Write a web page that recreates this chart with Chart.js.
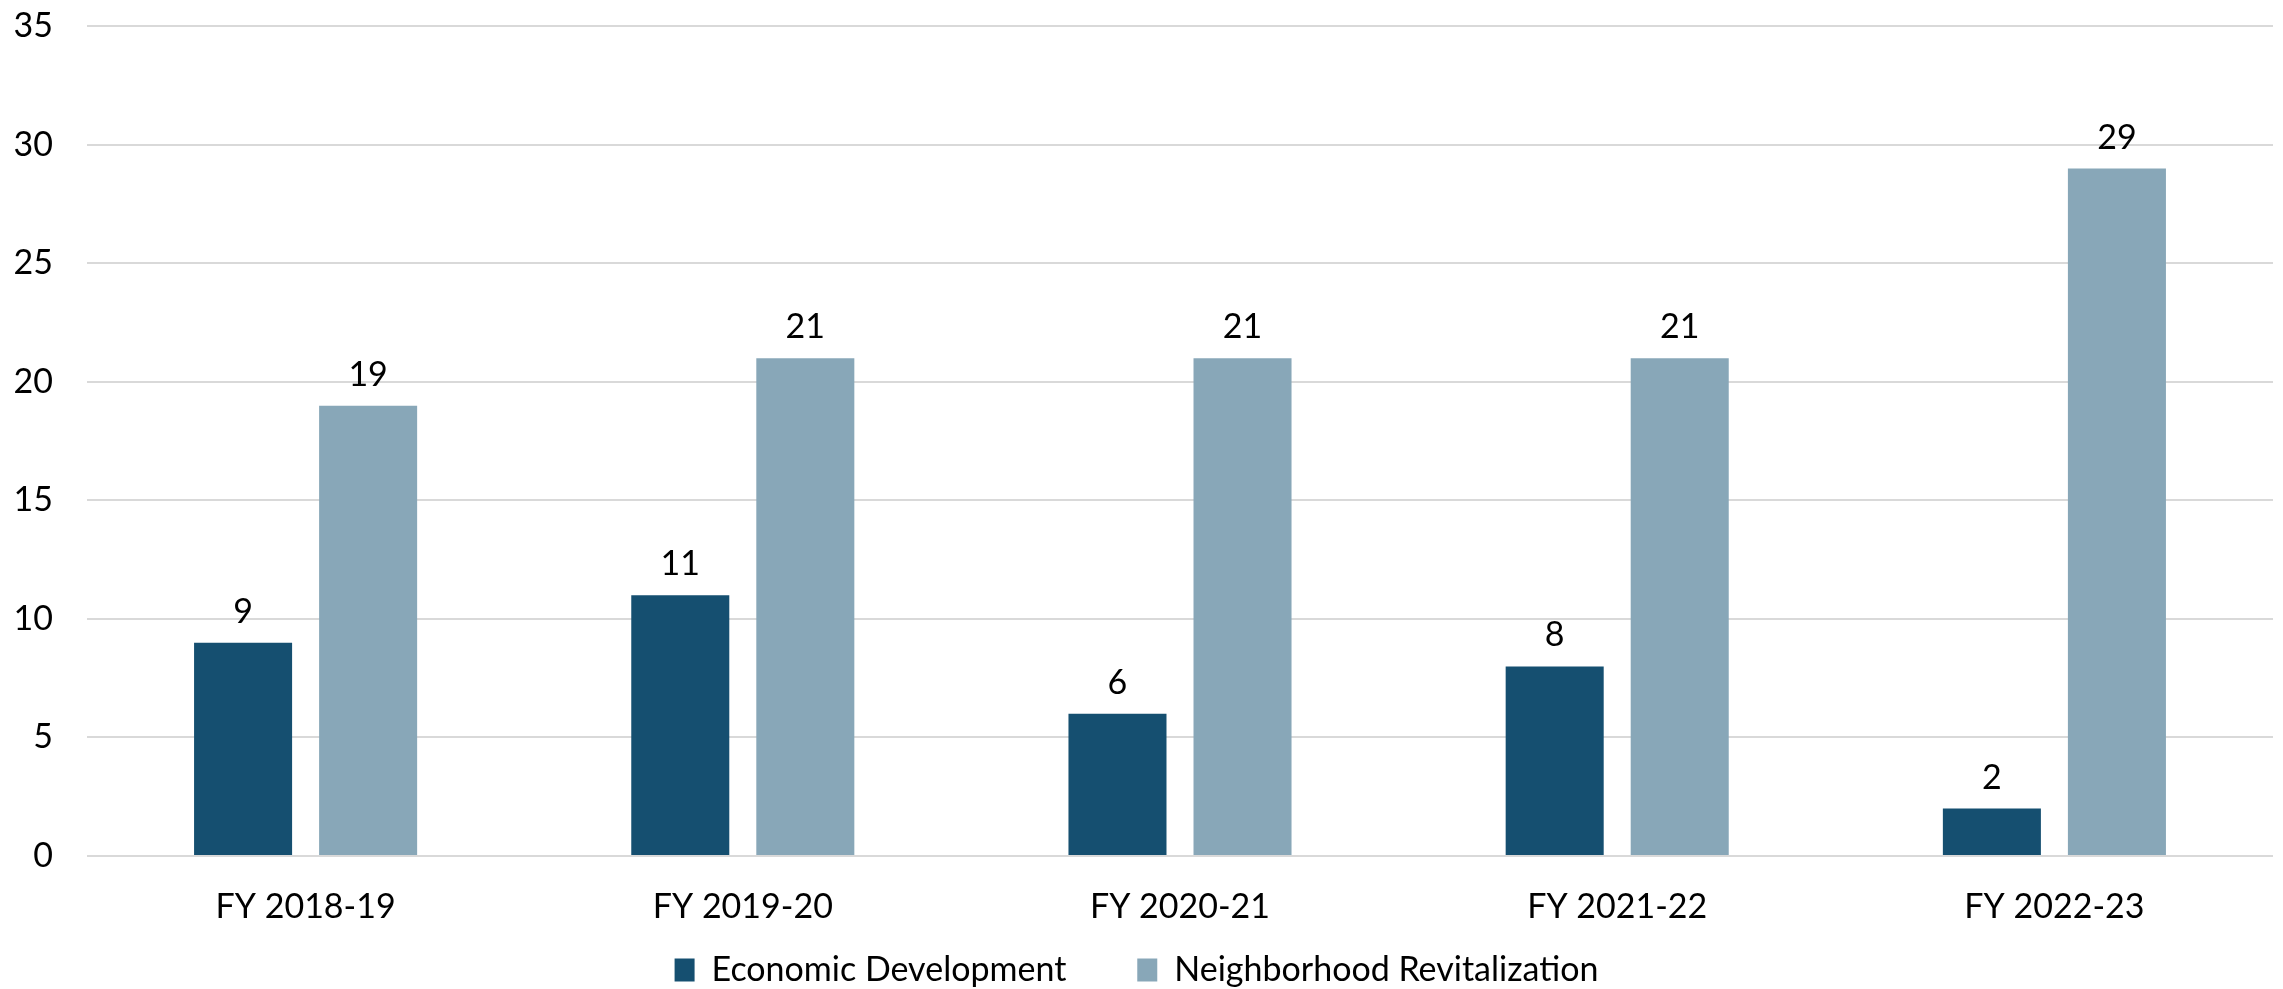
<!DOCTYPE html>
<html>
<head>
<meta charset="utf-8">
<script src="https://cdn.jsdelivr.net/npm/chart.js@4"></script>
<style>
  html, body { margin: 0; padding: 0; background: #fff; }
  #wrap { width: 2283px; height: 989px; }
</style>
</head>
<body>
<div id="wrap"><canvas id="barChart"></canvas></div>
<script>
var categories = ["FY 2018-19", "FY 2019-20", "FY 2020-21", "FY 2021-22", "FY 2022-23"];
var seriesNames = ["Economic Development", "Neighborhood Revitalization"];
var economicDev = [9, 11, 6, 8, 2];
var neighborhood = [19, 21, 21, 21, 29];
var yTicks = [0, 5, 10, 15, 20, 25, 30, 35];
var barColors = ["#154f70", "#88a7b8"];

Chart.defaults.font.family = "Lato, 'Open Sans', sans-serif";
Chart.defaults.color = "#000";

// draw the value above each bar
const valueLabels = {
  id: "valueLabels",
  afterDatasetsDraw(chart) {
    const ctx = chart.ctx;
    ctx.save();
    ctx.font = "34px Lato, 'Open Sans', sans-serif";
    ctx.fillStyle = "#000";
    ctx.textAlign = "center";
    ctx.textBaseline = "bottom";
    chart.data.datasets.forEach((ds, i) => {
      chart.getDatasetMeta(i).data.forEach((bar, j) => {
        ctx.fillText(ds.data[j], bar.x, bar.y - 14);
      });
    });
    ctx.restore();
  }
};

new Chart("barChart", {
  type: "bar",
  data: {
    labels: categories,
    datasets: [{
      label: seriesNames[0],
      backgroundColor: barColors[0],
      data: economicDev,
      categoryPercentage: 0.572,
      barPercentage: 0.784
    }, {
      label: seriesNames[1],
      backgroundColor: barColors[1],
      data: neighborhood,
      categoryPercentage: 0.572,
      barPercentage: 0.784
    }]
  },
  options: {
    responsive: true,
    maintainAspectRatio: false,
    animation: false,
    layout: { padding: { top: 0, right: 10, bottom: -8 } },
    plugins: {
      tooltip: { enabled: false },
      legend: {
        position: "bottom",
        labels: {
          font: { size: 34 },
          boxWidth: 20,
          boxHeight: 23,
          padding: 10,
          color: "#000",
          // widen the gap after the first item without growing the legend height
          generateLabels: (chart) => {
            const items = Chart.defaults.plugins.legend.labels.generateLabels(chart);
            items[0].text = items[0].text + "       ";
            return items;
          }
        }
      }
    },
    scales: {
      x: {
        grid: { display: false },
        border: { display: false },
        ticks: { font: { size: 34 }, color: "#000", padding: 23 },
        afterFit: (axis) => { axis.height = 87; }
      },
      y: {
        min: 0,
        max: 35,
        afterBuildTicks: (axis) => { axis.ticks = yTicks.map(v => ({ value: v })); },
        afterFit: (axis) => { axis.width = 87; },
        grid: { color: "#d9d9d9", lineWidth: 2, drawTicks: true, tickLength: 28, tickColor: "rgba(0,0,0,0)" },
        border: { display: false },
        ticks: { font: { size: 34 }, color: "#000", padding: 6 }
      }
    }
  },
  plugins: [valueLabels]
});
</script>
</body>
</html>
